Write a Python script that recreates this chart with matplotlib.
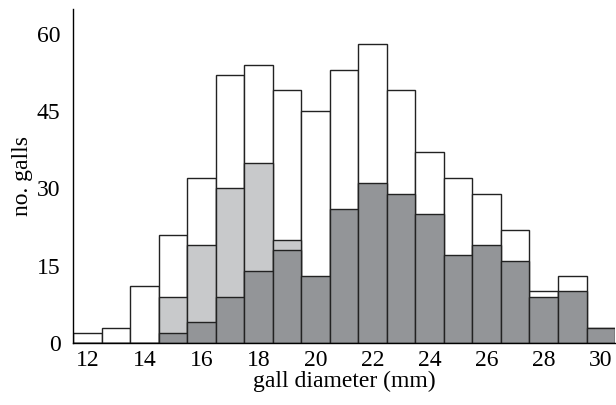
import numpy as np
import matplotlib.pyplot as plt

plt.rcParams['font.family'] = ['Liberation Serif', 'DejaVu Serif']

# gall diameter bins (mm) and counts
diameter = np.arange(12, 31)
total = [2, 3, 11, 21, 32, 52, 54, 49, 45, 53, 58, 49, 37, 32, 29, 22, 10, 13, 3]
light = [0, 0, 0, 9, 19, 30, 35, 20, 0, 0, 0, 0, 0, 0, 0, 0, 0, 0, 0]
dark = [0, 0, 0, 2, 4, 9, 14, 18, 13, 26, 31, 29, 25, 17, 19, 16, 9, 10, 3]

fig = plt.figure(figsize=(6.16, 4.05), dpi=100)
ax = fig.add_axes([0.1185, 0.153, 0.88, 0.825])

kw = dict(width=1.0, edgecolor='#222222', linewidth=1.0)
ax.bar(diameter, total, color='white', **kw)
ax.bar(diameter, light, color='#c8c9cb', **kw)
ax.bar(diameter, dark, color='#939598', **kw)

ax.set_xlim(11.5, 30.5)
ax.set_ylim(0, 64.8)
ax.set_xticks(np.arange(12, 31, 2))
ax.set_yticks([0, 15, 30, 45, 60])
ax.tick_params(length=0, labelsize=17)
ax.tick_params(axis='y', pad=9)
ax.tick_params(axis='x', pad=5)
for s in ['top', 'right']:
    ax.spines[s].set_visible(False)
ax.spines['left'].set_linewidth(1.0)
ax.spines['bottom'].set_linewidth(1.0)

ax.set_xlabel('gall diameter (mm)', fontsize=17, labelpad=0)
ax.set_ylabel('no. galls', fontsize=17, labelpad=3)

fig.savefig('out.png', dpi=100)
